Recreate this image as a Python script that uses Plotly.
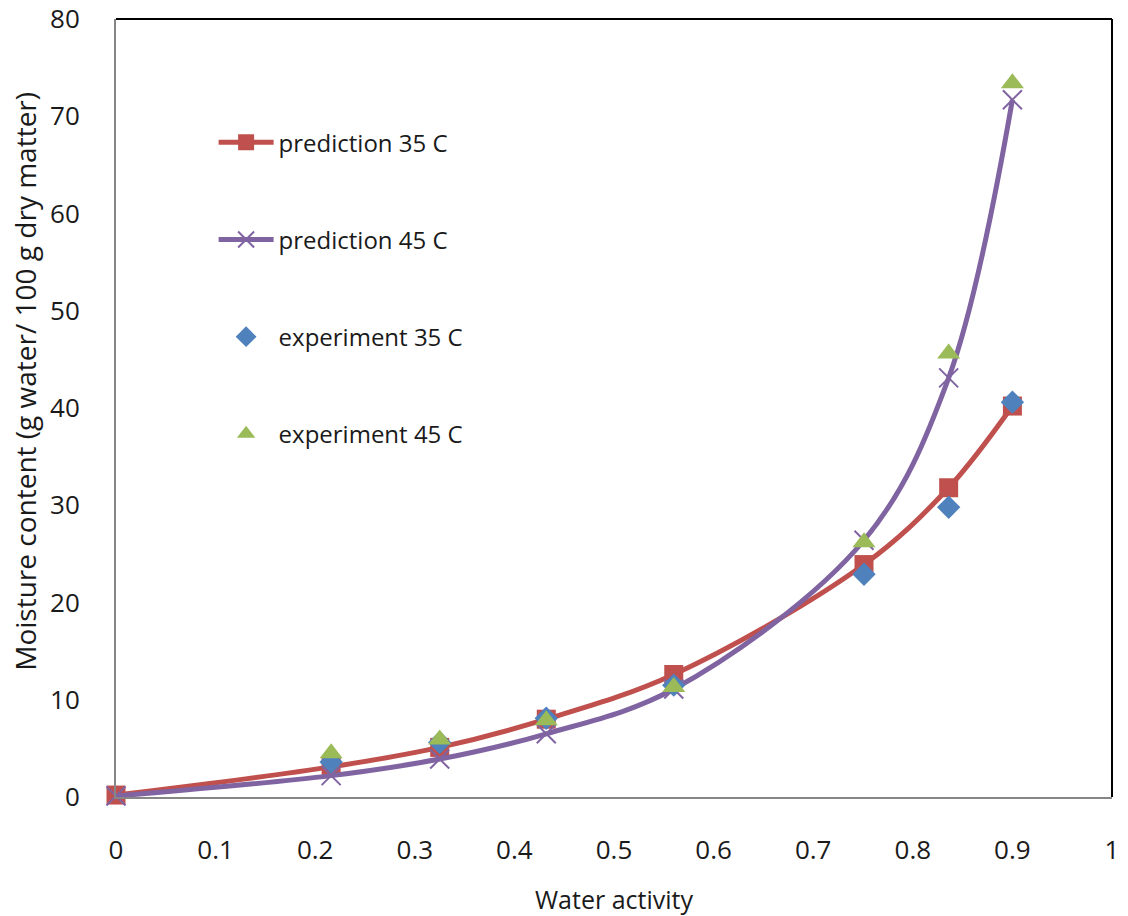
import plotly.graph_objects as go

aw = [0.0, 0.216, 0.325, 0.432, 0.56, 0.751, 0.836, 0.90]
pred35 = [0.2, 3.1, 5.1, 8.0, 12.6, 23.9, 31.8, 40.2]
pred45 = [0.1, 2.2, 3.9, 6.5, 11.1, 26.4, 43.1, 71.7]
aw_exp = [0.216, 0.325, 0.432, 0.56, 0.751, 0.836, 0.90]
exp35 = [3.6, 5.6, 8.1, 11.5, 22.9, 29.8, 40.6]
exp45 = [4.5, 5.9, 7.9, 11.3, 26.2, 45.6, 73.4]

xticks = [0, 0.1, 0.2, 0.3, 0.4, 0.5, 0.6, 0.7, 0.8, 0.9, 1]
yticks = [0, 10, 20, 30, 40, 50, 60, 70, 80]

RED = "#C0504D"
PURPLE = "#8064A2"
BLUE = "#4F81BD"
GREEN = "#9BBB59"
FONT = "Open Sans"

fig = go.Figure()
fig.add_trace(go.Scatter(
    x=aw, y=pred35, name="prediction 35 C", mode="lines+markers",
    line=dict(color=RED, width=5, shape="spline"),
    marker=dict(symbol="square", size=19, color=RED),
    legendgroup="a", legendrank=1))
fig.add_trace(go.Scatter(
    x=aw, y=pred45, name="prediction 45 C", mode="lines+markers",
    line=dict(color=PURPLE, width=5, shape="spline"),
    marker=dict(symbol="x-thin", size=19, line=dict(color=PURPLE, width=2)),
    legendgroup="b", legendrank=2))
fig.add_trace(go.Scatter(
    x=aw_exp, y=exp35, name="experiment 35 C", mode="markers",
    marker=dict(symbol="diamond", size=18, color=BLUE),
    legendgroup="c", legendrank=3))
fig.add_trace(go.Scatter(
    x=aw_exp, y=exp45, name="experiment 45 C", mode="markers",
    marker=dict(symbol="triangle-up", size=20, color=GREEN),
    legendgroup="d", legendrank=4))

fig.update_layout(
    width=1128, height=916,
    margin=dict(l=116, r=16, t=19, b=119),
    paper_bgcolor="white", plot_bgcolor="white",
    font=dict(family=FONT, color="#1a1a1a", size=24),
    showlegend=True,
    legend=dict(
        x=0.098, y=0.87, xanchor="left", yanchor="top",
        bgcolor="rgba(0,0,0,0)", font=dict(size=24, family=FONT),
        tracegroupgap=63, traceorder="grouped", itemwidth=55),
    xaxis=dict(
        range=[0, 1], tickvals=xticks, ticktext=[str(t) for t in xticks],
        showgrid=False, zeroline=False, showline=True, linecolor="#868686",
        linewidth=2, ticks="", mirror=False, ticklabelstandoff=29,
        automargin=False,
        tickfont=dict(size=26, family=FONT),
        title=dict(text="Water activity", font=dict(size=25, family=FONT), standoff=30)),
    yaxis=dict(
        range=[0, 80], tickvals=yticks, ticktext=[str(t) for t in yticks],
        showgrid=False, zeroline=False, showline=True, linecolor="#868686",
        linewidth=2, ticks="", ticklabelstandoff=29, automargin=False,
        tickfont=dict(size=26, family=FONT)),
)

fig.add_annotation(
    text="Moisture content (g water/ 100 g dry matter)", textangle=-90,
    xref="paper", yref="paper", x=-0.0914, y=0.535,
    xanchor="center", yanchor="middle", showarrow=False,
    font=dict(size=28, family=FONT, color="#1a1a1a"))

# black top and right frame edges
fig.add_shape(type="line", xref="paper", yref="paper", x0=0, x1=1, y0=1, y1=1,
              line=dict(color="black", width=2))
fig.add_shape(type="line", xref="paper", yref="paper", x0=1, x1=1, y0=0, y1=1,
              line=dict(color="black", width=2))

fig.update_traces(cliponaxis=False)
fig.write_html("out.html")
